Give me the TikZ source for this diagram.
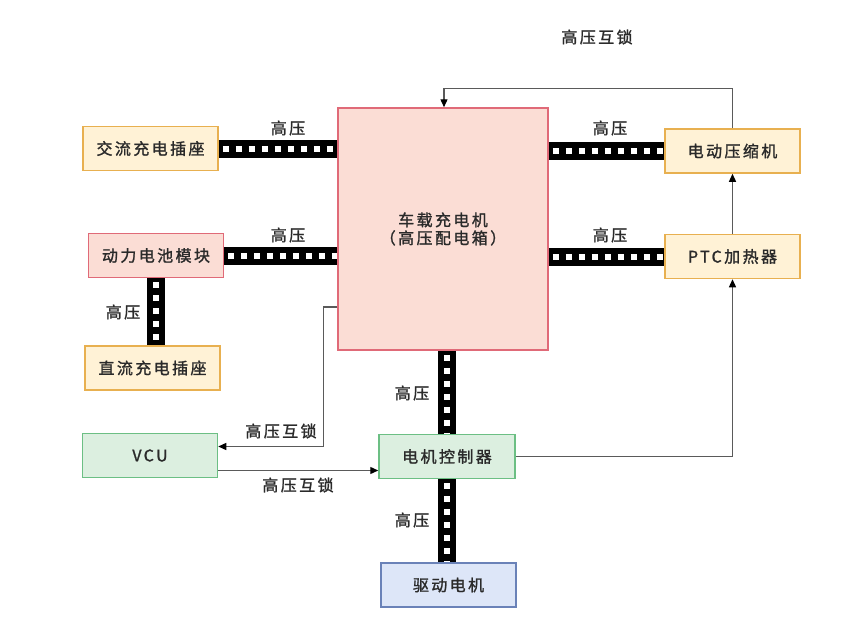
\documentclass[tikz,border=0pt]{standalone}
\usepackage{fontspec}
\setmainfont[LetterSpace=15,FakeBold=1.4]{Noto Sans CJK SC}
\usetikzlibrary{arrows.meta,calc}
\definecolor{txt}{HTML}{2A2A2A}
\definecolor{ofill}{HTML}{FFF2D6}
\definecolor{odraw}{HTML}{E8B050}
\definecolor{rfill}{HTML}{FBDDD5}
\definecolor{rdraw}{HTML}{E06A78}
\definecolor{gfill}{HTML}{DCEFE0}
\definecolor{gdraw}{HTML}{6CBF84}
\definecolor{bfill}{HTML}{DDE6F8}
\definecolor{bdraw}{HTML}{6A82B8}
\definecolor{iline}{HTML}{5A5A5A}
\tikzset{
  box/.style={draw, line width=1.5pt, minimum width=135pt, minimum height=44pt, inner sep=0pt, font=\fontsize{16}{18}\selectfont, text=txt},
  obox/.style={box, fill=ofill, draw=odraw},
  rbox/.style={box, fill=rfill, draw=rdraw},
  gbox/.style={box, fill=gfill, draw=gdraw},
  bbox/.style={box, fill=bfill, draw=bdraw},
  hv/.style={line width=18pt, draw=black, postaction={draw=white, line width=6pt, dash pattern=on 6pt off 7pt, dash phase=-4pt}},
  il/.style={draw=iline, line width=1.3pt, -{Triangle[length=8pt,width=7pt,color=black]}},
  lbl/.style={font=\fontsize{16}{18}\selectfont, text=txt, inner sep=0pt}
}
\begin{document}
\begin{tikzpicture}[x=1pt,y=-1pt]
\useasboundingbox[fill=white] (0,0) rectangle (844,629);
% nodes
\node[obox] (ac) at (150.5,148.5) {交流充电插座};
\node[rbox] (batt) at (156,255.5) {动力电池模块};
\node[obox] (dc) at (152.5,368) {直流充电插座};
\node[gbox] (vcu) at (150,455.5) {VCU};
\node[rbox, minimum width=210pt, minimum height=242pt, align=center] (obc) at (443,229) {车载充电机\\（高压配电箱）};
\node[gbox, minimum width=136pt] (mc) at (447,456.5) {电机控制器};
\node[bbox] (drive) at (448.5,585) {驱动电机};
\node[obox] (comp) at (732.5,151) {电动压缩机};
\node[obox] (ptc) at (732.5,256.5) {PTC加热器};
% high voltage buses
\draw[hv] (ac.east) -- (ac.east -| obc.west);
\draw[hv] (batt.east) -- (batt.east -| obc.west);
\draw[hv] (comp.west -| obc.east) -- (comp.west);
\draw[hv] (ptc.west -| obc.east) -- (ptc.west);
\draw[hv] (batt.south) -- (batt.south |- dc.north);
\draw[hv] (mc.north |- obc.south) -- (mc.north);
\draw[hv] (mc.south) -- (mc.south |- drive.north);
% labels
\node[lbl] (l1) at (288,128) {高压};
\node[lbl] (l2) at (288,235) {高压};
\node[lbl] (l3) at (610,128) {高压};
\node[lbl] (l4) at (610,235) {高压};
\node[lbl] (l5) at (123,312) {高压};
\node[lbl] (l6) at (412,393) {高压};
\node[lbl] (l7) at (412,520) {高压};
\node[lbl] (l8) at (597,37) {高压互锁};
\node[lbl] (l9) at (281,431) {高压互锁};
\node[lbl] (l10) at (298,485) {高压互锁};
% interlock lines
\draw[il] (comp.north) -- ++(0,-40) -| ([xshift=1pt]obc.north);
\draw[il] (ptc.north) -- (comp.south);
\draw[il] (mc.east) -| (ptc.south);
\draw[il] ([yshift=-78pt]obc.west) -- ++(-14,0) |- ([yshift=9pt]vcu.east);
\draw[il] ([yshift=-15pt]vcu.east) -- ([yshift=-15pt]vcu.east -| mc.west);
\end{tikzpicture}
\end{document}
